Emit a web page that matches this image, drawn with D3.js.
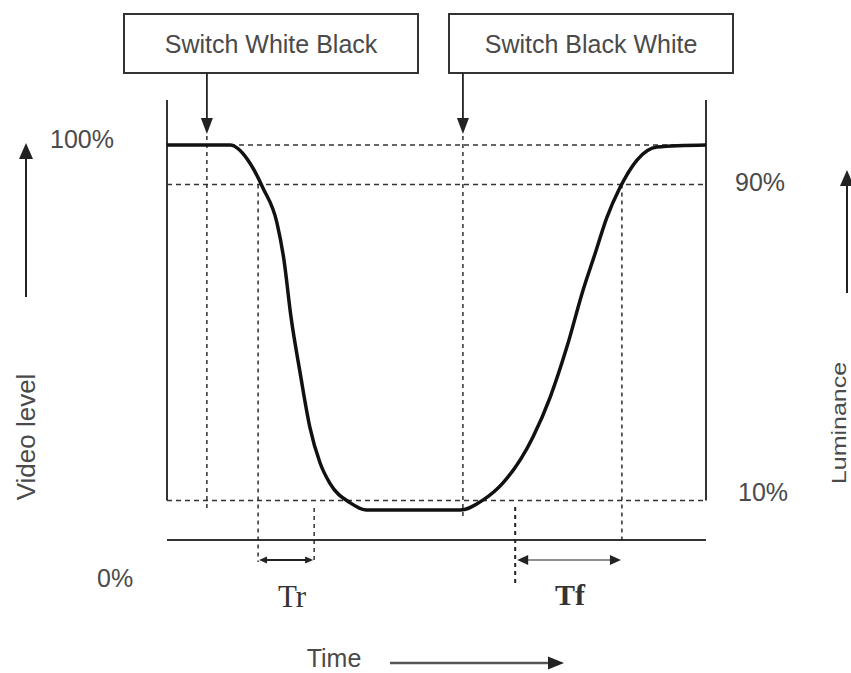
<!DOCTYPE html>
<html><head><meta charset="utf-8">
<script src="https://cdn.jsdelivr.net/npm/d3@7"></script>
<style>body{margin:0;background:#fff}svg{display:block}</style>
</head><body><svg id="c" width="851" height="673"></svg>
<script>
// ---- data ----
const curveTime  = [0, 11.7, 15.4, 17.8, 20.4, 21.7, 23.0, 24.7, 26.5, 28.4, 30.2, 34.0, 37.1, 54.4, 58.6, 62.3, 67.9, 71.1, 74.2, 77.2, 79.4, 81.6, 84.0, 87.2, 90.9, 100];
const curveLevel = [100, 100, 95.4, 89.1, 80.3, 70.9, 56.5, 42.3, 28.6, 19.5, 14.4, 9.4, 7.6, 7.6, 10.1, 14.4, 26.1, 36.2, 48.9, 63.3, 72.4, 81.6, 89.1, 96.2, 99.5, 100];
const refLevels = [100, 90, 10];
const levelLabels = ["100%", "90%", "10%", "0%"];
const switchTimes = [7.4, 54.9];
const switchLabels = ["Switch White Black", "Switch Black White"];
const trTimes = [16.9, 27.3];
const tfTimes = [64.6, 84.4];
const axisLabels = ["Video level", "Luminance", "Time"];
const spanLabels = ["Tr", "Tf"];

// ---- layout ----
const svg = d3.select("#c");
const x = d3.scaleLinear().domain([0, 100]).range([167, 706]);
const y = d3.scaleLinear().domain([0, 100]).range([540, 145]);
const ink = "#222", txt = "#4a4a4a";
const sans = "'Liberation Sans', Arial, sans-serif";
const serif = "'Liberation Serif', 'Times New Roman', serif";

function tri(tx, ty, dir, len, half) {
  let p;
  if (dir === "down") p = [[tx, ty], [tx - half, ty - len], [tx + half, ty - len]];
  if (dir === "up") p = [[tx, ty], [tx - half, ty + len], [tx + half, ty + len]];
  if (dir === "left") p = [[tx, ty], [tx + len, ty - half], [tx + len, ty + half]];
  if (dir === "right") p = [[tx, ty], [tx - len, ty - half], [tx - len, ty + half]];
  svg.append("path").attr("d", "M" + p.map(d => d.join(",")).join("L") + "Z").attr("fill", ink);
}
function line(x1, y1, x2, y2, w, dash, col) {
  const l = svg.append("line").attr("x1", x1).attr("y1", y1).attr("x2", x2).attr("y2", y2)
    .attr("stroke", col || ink).attr("stroke-width", w);
  if (dash) l.attr("stroke-dasharray", dash);
  return l;
}

// reference dashed lines
refLevels.forEach(v => line(x(0), y(v), x(100), y(v), 1.4, "5,4", "#333"));

// frame
line(x(0), 100, x(0), y(10), 2, null, "#333");
line(x(100), 100, x(100), y(10), 2, null, "#333");
line(x(0), y(0), x(100), y(0), 2.2, null, "#333");

// switch boxes + arrows
const boxes = [[124, 418], [449, 733]];
switchLabels.forEach((s, i) => {
  const [bx0, bx1] = boxes[i];
  svg.append("rect").attr("x", bx0).attr("y", 14).attr("width", bx1 - bx0).attr("height", 59)
    .attr("fill", "#fff").attr("stroke", "#333").attr("stroke-width", 2);
  svg.append("text").attr("x", (bx0 + bx1) / 2).attr("y", 53).attr("text-anchor", "middle")
    .attr("font-family", sans).attr("font-size", 25).attr("fill", txt).text(s);
  const sx = x(switchTimes[i]);
  line(sx, 73, sx, 120, 1.8);
  tri(sx, 134, "down", 16, 6);
  line(sx, 136, sx, i === 0 ? 508 : 520, 1.4, "4,4");
});

// Tr / Tf verticals
line(x(trTimes[0]), y(90), x(trTimes[0]), 562, 1.4, "4,4");
line(x(trTimes[1]), 508, x(trTimes[1]), 562, 1.4, "4,4");
line(x(tfTimes[0]), 507, x(tfTimes[0]), 586, 2, "4,4");
line(x(tfTimes[1]), y(90), x(tfTimes[1]), 544, 1.4, "4,4");

// Tr arrow
line(x(trTimes[0]) + 4, 560, x(trTimes[1]) - 4, 560, 1.8);
tri(x(trTimes[0]) + 1, 560, "left", 8, 3.5);
tri(x(trTimes[1]) - 1, 560, "right", 8, 3.5);
// Tf arrow
line(x(tfTimes[0]) + 6, 560, x(tfTimes[1]) - 6, 560, 1.2);
tri(x(tfTimes[0]) + 2, 560, "left", 11, 5);
tri(x(tfTimes[1]) - 1, 560, "right", 11, 5);

svg.append("text").attr("x", 292).attr("y", 607).attr("text-anchor", "middle")
  .attr("font-family", serif).attr("font-size", 31).attr("fill", "#333").text(spanLabels[0]);
svg.append("text").attr("x", 570).attr("y", 605).attr("text-anchor", "middle")
  .attr("font-family", serif).attr("font-weight", "bold").attr("font-size", 30).attr("fill", "#333").text(spanLabels[1]);

// curve
const pts = curveTime.map((t, i) => [x(t), y(curveLevel[i])]);
svg.append("path").attr("d", d3.line().curve(d3.curveMonotoneX)(pts))
  .attr("fill", "none").attr("stroke", "#111").attr("stroke-width", 3.5).attr("stroke-linejoin", "round");

// level labels
const lab = (t, lx, ly) => svg.append("text").attr("x", lx).attr("y", ly)
  .attr("font-family", sans).attr("font-size", 25).attr("fill", txt).text(t);
lab(levelLabels[0], 50, 148);
lab(levelLabels[1], 735, 191);
lab(levelLabels[2], 738, 501);
lab(levelLabels[3], 97, 587);

// side arrows
line(26, 297, 26, 156, 2);
tri(26, 143, "up", 16, 7);
line(847, 293, 847, 182, 2);
tri(847, 170, "up", 16, 7);
// time arrow
line(390, 663, 550, 663, 2.4, null, "#555");
tri(564, 663, "right", 16, 6.5);

// axis labels
svg.append("text").attr("transform", "translate(35,437) rotate(-90)").attr("text-anchor", "middle")
  .attr("font-family", sans).attr("font-size", 26).attr("fill", txt).text(axisLabels[0]);
svg.append("text").attr("transform", "translate(846,423) rotate(-90) scale(1,0.8)").attr("text-anchor", "middle")
  .attr("font-family", sans).attr("font-size", 25).attr("fill", txt).text(axisLabels[1]);
svg.append("text").attr("x", 334).attr("y", 667).attr("text-anchor", "middle")
  .attr("font-family", sans).attr("font-size", 25).attr("fill", txt).text(axisLabels[2]);
</script></body></html>
